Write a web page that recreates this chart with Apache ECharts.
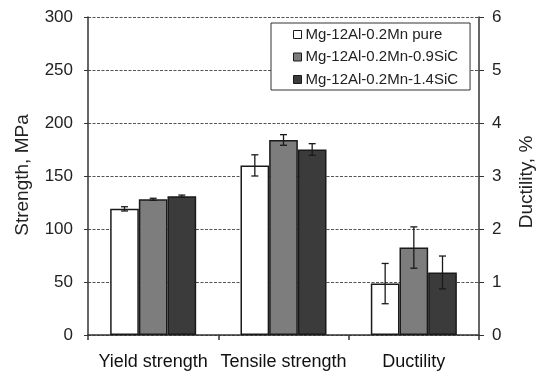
<!DOCTYPE html>
<html>
<head>
<meta charset="utf-8">
<script src="https://cdn.jsdelivr.net/npm/echarts@6/dist/echarts.min.js"></script>
<style>
  html, body { margin: 0; padding: 0; background: #fff; }
  #chart { width: 541px; height: 371px; }
</style>
</head>
<body>
<div id="chart"></div>
<script>
// Mechanical properties of Mg-12Al-0.2Mn alloys with and without SiC
const categories = ['Yield strength', 'Tensile strength', 'Ductility'];
const seriesNames = ['Mg-12Al-0.2Mn pure', 'Mg-12Al-0.2Mn-0.9SiC', 'Mg-12Al-0.2Mn-1.4SiC'];

// Strength (MPa): yield strength, tensile strength
const strengthPure = [119, 160];
const strength09 = [128, 184];
const strength14 = [131, 175];
const strengthErrPure = [2, 10];
const strengthErr09 = [1, 5];
const strengthErr14 = [1, 5.5];

// Ductility (%)
const ductility = [0.97, 1.65, 1.18];
const ductilityErr = [0.38, 0.39, 0.31];

// Axis ticks
const strengthTicks = { min: 0, max: 300, interval: 50 };
const ductilityTicks = { min: 0, max: 6, interval: 1 };

const fills = ['#ffffff', '#7d7d7d', '#3b3b3b'];
const BAR_FRAC = 0.22;
const FONT = 'Arial, "Liberation Sans", sans-serif';

const strengthVals = [strengthPure, strength09, strength14];
const strengthErrs = [strengthErrPure, strengthErr09, strengthErr14];

function errorRenderer(slot) {
  return function (params, api) {
    const x = api.value(0), v = api.value(1), e = api.value(2);
    const band = api.size([1, 0])[0];
    const off = (slot - 1) * BAR_FRAC * band;
    const top = api.coord([x, v + e]);
    const bot = api.coord([x, v - e]);
    const cx = top[0] + off;
    const cap = 3.5;
    const style = { stroke: '#1a1a1a', lineWidth: 1.3 };
    return {
      type: 'group',
      children: [
        { type: 'line', shape: { x1: cx, y1: top[1], x2: cx, y2: bot[1] }, style },
        { type: 'line', shape: { x1: cx - cap, y1: top[1], x2: cx + cap, y2: top[1] }, style },
        { type: 'line', shape: { x1: cx - cap, y1: bot[1], x2: cx + cap, y2: bot[1] }, style }
      ]
    };
  };
}

const series = [];
// Strength bars on the left axis
for (let i = 0; i < 3; i++) {
  series.push({
    name: seriesNames[i], type: 'bar', xAxisIndex: 0, yAxisIndex: 0,
    barWidth: (BAR_FRAC * 100) + '%', barGap: '0%',
    itemStyle: { color: fills[i], borderColor: '#1a1a1a', borderWidth: 1.5 },
    data: [strengthVals[i][0], strengthVals[i][1], '-'],
    z: 2
  });
}
// Ductility bars on the right axis
for (let i = 0; i < 3; i++) {
  series.push({
    name: seriesNames[i], type: 'bar', xAxisIndex: 1, yAxisIndex: 1,
    barWidth: (BAR_FRAC * 100) + '%', barGap: '0%',
    itemStyle: { color: fills[i], borderColor: '#1a1a1a', borderWidth: 1.5 },
    data: ['-', '-', ductility[i]],
    z: 2
  });
}
// Error bars
for (let i = 0; i < 3; i++) {
  series.push({
    type: 'custom', xAxisIndex: 0, yAxisIndex: 0, z: 5,
    renderItem: errorRenderer(i),
    data: [[0, strengthVals[i][0], strengthErrs[i][0]], [1, strengthVals[i][1], strengthErrs[i][1]]]
  });
  series.push({
    type: 'custom', xAxisIndex: 1, yAxisIndex: 1, z: 5,
    renderItem: errorRenderer(i),
    data: [[2, ductility[i], ductilityErr[i]]]
  });
}

const axisLine = { show: true, lineStyle: { color: '#333', width: 1.5 } };

const chart = echarts.init(document.getElementById('chart'), null, { renderer: 'canvas' });
chart.setOption({
  backgroundColor: '#ffffff',
  animation: false,
  grid: { left: 88, right: 62, top: 17, bottom: 36 },
  legend: {
    data: seriesNames,
    orient: 'vertical',
    left: 271, top: 23,
    padding: [4, 12, 3, 22],
    itemGap: 7.5,
    itemWidth: 8, itemHeight: 8,
    icon: 'rect',
    backgroundColor: '#ffffff',
    borderColor: '#333', borderWidth: 1,
    itemStyle: { borderColor: '#1a1a1a', borderWidth: 1 },
    textStyle: { fontFamily: FONT, fontSize: 15, color: '#222', lineHeight: 15, padding: [0, 0, 0, -1] }
  },
  xAxis: [
    {
      type: 'category', data: categories,
      axisLine, axisTick: { show: true, length: 5, lineStyle: { color: '#333', width: 1.5 } },
      axisLabel: { interval: 0, fontFamily: FONT, fontSize: 18, color: '#111', margin: 18 }
    },
    { type: 'category', data: categories, show: false }
  ],
  yAxis: [
    {
      type: 'value', position: 'left',
      min: strengthTicks.min, max: strengthTicks.max, interval: strengthTicks.interval,
      axisLine, axisTick: { show: true, length: 4, lineStyle: { color: '#333' } },
      axisLabel: { fontFamily: FONT, fontSize: 17, color: '#222', margin: 15 },
      splitLine: { show: true, lineStyle: { color: '#555', type: [3, 1.5], width: 1 } }
    },
    {
      type: 'value', position: 'right',
      min: ductilityTicks.min, max: ductilityTicks.max, interval: ductilityTicks.interval,
      axisLine, axisTick: { show: true, length: 5, lineStyle: { color: '#333' } },
      axisLabel: { fontFamily: FONT, fontSize: 17, color: '#222', margin: 13 },
      splitLine: { show: false }
    }
  ],
  graphic: [
    {
      type: 'text', x: 23, y: 175, rotation: Math.PI / 2,
      style: { text: 'Strength, MPa', fontFamily: FONT, fontSize: 19, fill: '#222',
               textAlign: 'center', textVerticalAlign: 'middle' }
    },
    {
      type: 'text', x: 527, y: 182, rotation: Math.PI / 2,
      style: { text: 'Ductility, %', fontFamily: FONT, fontSize: 19, fill: '#222',
               textAlign: 'center', textVerticalAlign: 'middle' }
    }
  ],
  series
});
</script>
</body>
</html>
